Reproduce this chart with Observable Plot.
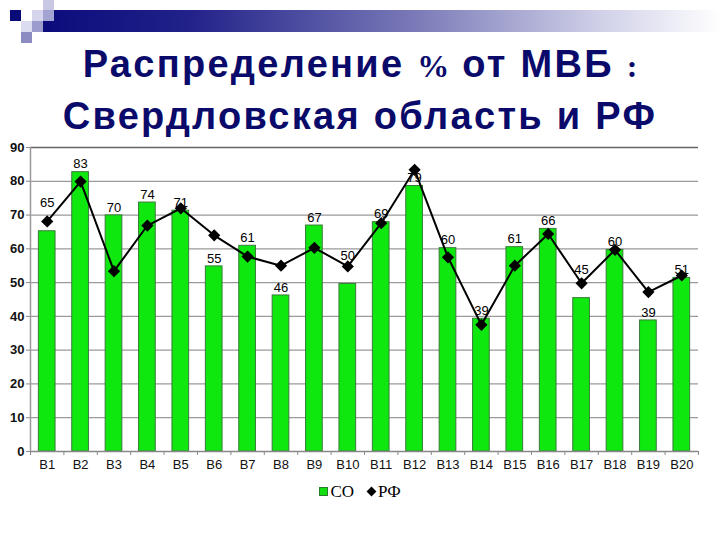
<!DOCTYPE html>
<html>
<head>
<meta charset="utf-8">
<script src="https://cdn.jsdelivr.net/npm/d3@7"></script>
<script src="https://cdn.jsdelivr.net/npm/@observablehq/plot@0.6"></script>
<style>
  html, body { margin: 0; padding: 0; background: #fff; }
  #page { position: relative; width: 720px; height: 540px; overflow: hidden; background: #fff; font-family: "Liberation Sans", Arial, sans-serif; }
  .sq { position: absolute; width: 11px; height: 11px; }
  #band { position: absolute; left: 43px; top: 10px; width: 677px; height: 22px;
          background: linear-gradient(to right, #0b0b7c 0%, #22228a 22%, #7a7ab8 55%, #cfcfe8 82%, #ffffff 100%); }
  .title { position: absolute; left: 0; width: 720px; text-align: center; color: #0a0a6a;
           font-weight: bold; font-size: 38px; line-height: 44px; white-space: nowrap; letter-spacing: 2.3px; }
  .serif { font-family: "Liberation Serif", "Times New Roman", serif; font-size: 32px; letter-spacing: 0; }
  #chart { position: absolute; left: 0; top: 140px; }
  #legend { position: absolute; top: 482px; left: 0; width: 720px; text-align: center;
            font-family: "Liberation Serif", "Times New Roman", serif; font-size: 17px; color: #000; }
  #legend .sw { display: inline-block; width: 7px; height: 7px; background: #11dd11; border: 1px solid #2a7a2a; vertical-align: 1px; margin-right: 2px; }
  #legend .dm { display: inline-block; width: 7px; height: 7px; background: #000; transform: rotate(45deg); vertical-align: 2px; margin: 0 3px 0 14px; }
</style>
</head>
<body>
<div id="page">
  <div id="band"></div>
  <div class="sq" style="left:10px;top:10px;background:#0a0a78"></div>
  <div class="sq" style="left:43px;top:0px;background:#c8c8e4"></div>
  <div class="sq" style="left:32px;top:10px;background:#d4d4ec"></div>
  <div class="sq" style="left:43px;top:10px;background:#a4a4d2"></div>
  <div class="sq" style="left:21px;top:21px;background:#dcdcf0"></div>
  <div class="sq" style="left:32px;top:21px;background:#9c9cce"></div>
  <div class="sq" style="left:21px;top:32px;background:#8c8cc2"></div>
  <div class="title" style="top:42px">Распределение <span class="serif">%</span> от МВБ <span class="serif">:</span></div>
  <div class="title" style="top:94px">Свердловская область и РФ</div>
  <div id="chart"></div>
  <div id="legend"><span class="sw"></span>СО<span class="dm"></span>РФ</div>
</div>
<script>
const categories = ["В1","В2","В3","В4","В5","В6","В7","В8","В9","В10","В11","В12","В13","В14","В15","В16","В17","В18","В19","В20"];
const coValues = [65.2, 82.7, 69.9, 73.7, 71.3, 54.8, 60.9, 46.2, 66.9, 49.6, 67.9, 78.6, 60.2, 39.3, 60.5, 65.9, 45.4, 59.7, 38.8, 51.4];
const coLabels = [65, 83, 70, 74, 71, 55, 61, 46, 67, 50, 69, 79, 60, 39, 61, 66, 45, 60, 39, 51];
const rfValues = [68.1, 79.9, 53.4, 66.9, 72.0, 64.0, 57.7, 55.0, 60.3, 54.8, 67.6, 83.4, 57.5, 37.5, 55.0, 64.4, 49.8, 59.7, 47.2, 52.1];
const raisedLabels = ["В1", "В10", "В17"];
const yTicks = [0, 10, 20, 30, 40, 50, 60, 70, 80, 90];

const data = categories.map((c, i) => ({cat: c, co: coValues[i], label: String(coLabels[i]), rf: rfValues[i]}));
const normal = data.filter(d => !raisedLabels.includes(d.cat));
const raised = data.filter(d => raisedLabels.includes(d.cat));

const W = 720, H = 340, ML = 30, MR = 22, MT = 7, MB = 29;
const step = (W - ML - MR) / categories.length;

const chart = Plot.plot({
  width: W, height: H,
  marginLeft: ML, marginRight: MR, marginTop: MT, marginBottom: MB,
  style: {fontFamily: "'Liberation Sans', Arial, sans-serif", background: "transparent"},
  x: {domain: categories, paddingInner: 0.5, paddingOuter: 0.25, round: false, label: null},
  y: {domain: [0, 90], label: null},
  marks: [
    Plot.ruleY(yTicks.filter(v => v > 0 && v < 90), {y: d => d, stroke: "#9a9a9a", strokeWidth: 1.3}),
    Plot.ruleY([90], {stroke: "#666", strokeWidth: 1.5}),
    Plot.barY(data, {x: "cat", y: "co", fill: "#0ee80e", stroke: "#3a7a3a", strokeWidth: 1}),
    Plot.ruleY([0], {stroke: "#888", strokeWidth: 1.5}),
    Plot.ruleX([categories[0]], {y1: 0, y2: 90, dx: -step / 2, stroke: "#999", strokeWidth: 1.5}),
    Plot.ruleX(categories, {y1: 0, y2: 0, insetBottom: -4, dx: -step / 2, stroke: "#888"}),
    Plot.ruleX([categories[categories.length - 1]], {y1: 0, y2: 0, insetBottom: -4, dx: step / 2, stroke: "#888"}),
    Plot.line(data, {x: "cat", y: "rf", stroke: "#000", strokeWidth: 2}),
    Plot.dot(data, {x: "cat", y: "rf", symbol: "diamond2", r: 5.5, fill: "#000", stroke: "none"}),
    Plot.text(normal, {x: "cat", y: "co", text: "label", dy: -8, fontSize: 13, fill: "#000"}),
    Plot.text(raised, {x: "cat", y: "co", text: "label", dy: -28, fontSize: 13, fill: "#000"}),
    Plot.axisY({ticks: yTicks, tickSize: 4, tickPadding: 2, fontSize: 13, fontWeight: "bold", stroke: "#888", fill: "#111"}),
    Plot.axisX({tickSize: 0, tickPadding: 8, fontSize: 13, fill: "#111"})
  ]
});
document.getElementById("chart").appendChild(chart);
</script>
</body>
</html>
